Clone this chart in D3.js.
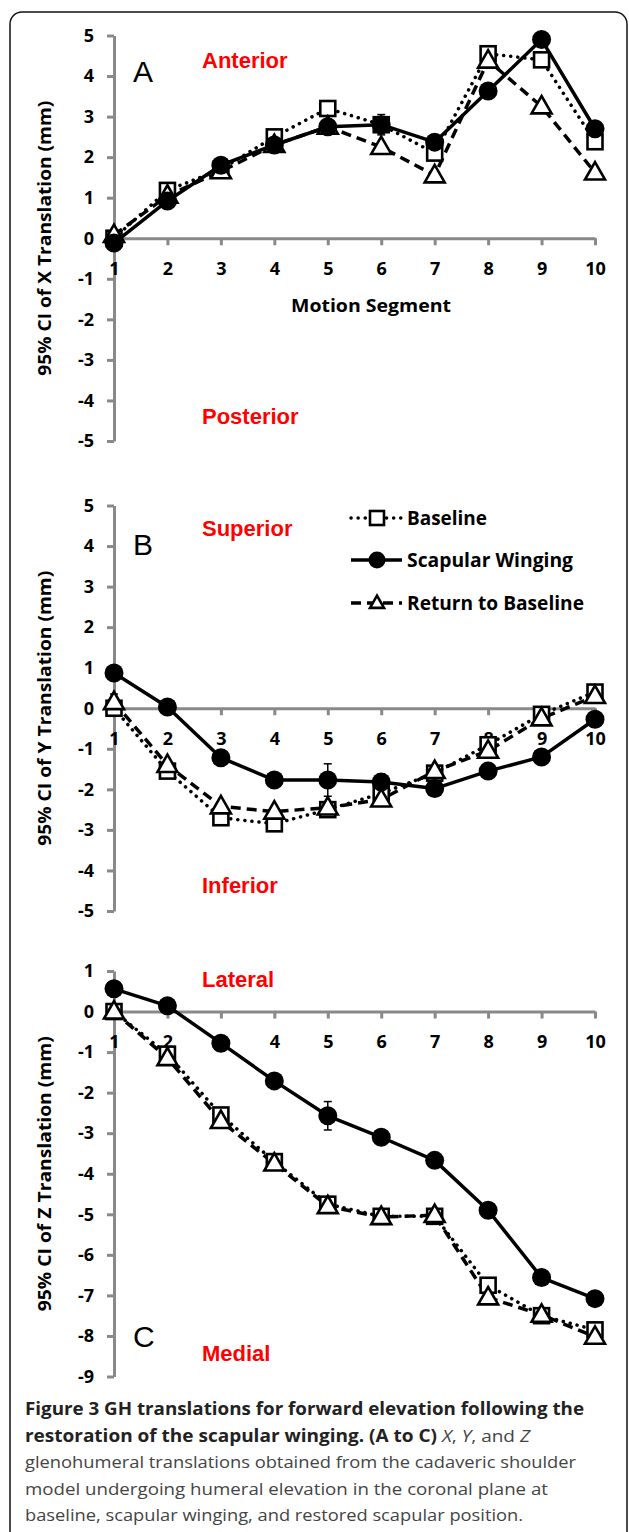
<!DOCTYPE html>
<html lang="en">
<head>
<meta charset="UTF-8">
<title>GH translations</title>
<script src="https://d3js.org/d3.v7.min.js"></script>
<style>
  body { margin: 0; background: #fff; }
  svg { display: block; }
  .tick text { font-family: "Open Sans", sans-serif; font-weight: bold; font-size: 18px; fill: #000; }
  .side { font-family: "Liberation Sans", Arial, sans-serif; font-weight: bold; font-size: 22px; fill: #ff0000; }
  .letter { font-family: "Liberation Sans", Arial, sans-serif; font-size: 30px; fill: #000; }
  .ytitle, .xtitle, .legend text { font-family: "Open Sans", sans-serif; font-weight: bold; fill: #000; }
  .caption { font-family: "Open Sans", sans-serif; font-size: 17px; fill: #444; }
  .caption .b { font-weight: bold; fill: #222; }
</style>
</head>
<body>
<script>
// motion segments on the x axis
const segments = [1, 2, 3, 4, 5, 6, 7, 8, 9, 10];

// panel A: X translation (mm)
const xBaseline = [0.0, 1.18, 1.7, 2.5, 3.2, 2.8, 2.1, 4.55, 4.4, 2.38];
const xWinging  = [-0.12, 0.92, 1.8, 2.3, 2.75, 2.8, 2.37, 3.63, 4.9, 2.7];
const xReturn   = [0.08, 1.05, 1.65, 2.3, 2.75, 2.25, 1.55, 4.38, 3.25, 1.62];
const xErrB = [0.1, 0.1, 0.1, 0.1, 0.1, 0.25, 0.1, 0.1, 0.1, 0.1];
const xErrW = [0.1, 0.1, 0.1, 0.1, 0.1, 0.1, 0.1, 0.1, 0.1, 0.1];
const xErrR = [0.1, 0.1, 0.1, 0.1, 0.1, 0.1, 0.1, 0.1, 0.1, 0.1];

// panel B: Y translation (mm)
const yBaseline = [0.0, -1.55, -2.7, -2.85, -2.5, -2.1, -1.6, -0.9, -0.15, 0.4];
const yWinging  = [0.87, 0.03, -1.22, -1.77, -1.77, -1.82, -1.98, -1.55, -1.2, -0.27];
const yReturn   = [0.15, -1.4, -2.42, -2.55, -2.45, -2.25, -1.55, -1.05, -0.25, 0.3];
const yErrB = [0.1, 0.1, 0.1, 0.1, 0.1, 0.1, 0.1, 0.1, 0.1, 0.1];
const yErrW = [0.1, 0.1, 0.1, 0.1, 0.4, 0.2, 0.1, 0.1, 0.1, 0.1];
const yErrR = [0.2, 0.1, 0.1, 0.1, 0.1, 0.1, 0.1, 0.1, 0.1, 0.1];

// panel C: Z translation (mm)
const zBaseline = [0.0, -1.05, -2.55, -3.7, -4.75, -5.05, -5.05, -6.75, -7.5, -7.85];
const zWinging  = [0.56, 0.14, -0.78, -1.71, -2.57, -3.1, -3.67, -4.9, -6.56, -7.08];
const zReturn   = [0.0, -1.15, -2.7, -3.75, -4.8, -5.07, -5.02, -7.05, -7.48, -8.02];
const zErrB = [0.1, 0.1, 0.1, 0.1, 0.1, 0.1, 0.1, 0.1, 0.1, 0.1];
const zErrW = [0.1, 0.1, 0.1, 0.1, 0.35, 0.1, 0.1, 0.1, 0.1, 0.1];
const zErrR = [0.1, 0.1, 0.1, 0.1, 0.1, 0.1, 0.1, 0.1, 0.1, 0.1];

const seriesNames = ["Baseline", "Scapular Winging", "Return to Baseline"];

const width = 629, height = 1532;
const svg = d3.select("body").append("svg")
    .attr("width", width)
    .attr("height", height);

// outer frame (bottom runs off the page)
svg.append("rect")
    .attr("x", 10).attr("y", 12)
    .attr("width", 617).attr("height", 1560)
    .attr("rx", 12)
    .attr("fill", "none")
    .attr("stroke", "#111")
    .attr("stroke-width", 1.5);

const x = d3.scaleLinear().domain([1, 10]).range([114, 595]);

const panels = [
    { letter: "A", axis: "X", dom: [-5, 5], top: 35.5, letterY: 82, up: "Anterior", upY: 68, down: "Posterior", downY: 424,
      b: xBaseline, w: xWinging, r: xReturn, eb: xErrB, ew: xErrW, er: xErrR, xtitle: true },
    { letter: "B", axis: "Y", dom: [-5, 5], top: 505.5, letterY: 555, up: "Superior", upY: 536, down: "Inferior", downY: 893,
      b: yBaseline, w: yWinging, r: yReturn, eb: yErrB, ew: yErrW, er: yErrR, legend: true },
    { letter: "C", axis: "Z", dom: [-9, 1], top: 971, letterY: 1347, up: "Lateral", upY: 987, down: "Medial", downY: 1361,
      b: zBaseline, w: zWinging, r: zReturn, eb: zErrB, ew: zErrW, er: zErrR }
];

const unit = 40.55;

function square(g, cx, cy, s) {
    g.append("rect").attr("x", cx - s / 2).attr("y", cy - s / 2)
        .attr("width", s).attr("height", s)
        .attr("fill", "#fff").attr("stroke", "#000").attr("stroke-width", 2.6);
}
function triangle(g, cx, cy, s) {
    const h = s * 0.87;
    g.append("path")
        .attr("d", `M${cx},${cy - h * 0.6}L${cx + s / 2},${cy + h * 0.4}L${cx - s / 2},${cy + h * 0.4}Z`)
        .attr("fill", "#fff").attr("stroke", "#000").attr("stroke-width", 2.6)
        .attr("stroke-linejoin", "miter");
}
function circle(g, cx, cy, r) {
    g.append("circle").attr("cx", cx).attr("cy", cy).attr("r", r).attr("fill", "#000");
}

const styles = {
    b: { dash: "0.1,7", cap: "round" },
    w: { dash: null, cap: "butt" },
    r: { dash: "10,6", cap: "butt" }
};

panels.forEach(p => {
    const y = d3.scaleLinear().domain(p.dom)
        .range([p.top + (p.dom[1] - p.dom[0]) * unit, p.top]);
    const g = svg.append("g");

    // y axis
    const ya = g.append("g").attr("transform", `translate(${x(1)},0)`)
        .call(d3.axisLeft(y).tickValues(d3.range(p.dom[0], p.dom[1] + 1)).tickSize(7).tickSizeOuter(0).tickPadding(13));
    // x axis at zero
    const xa = g.append("g").attr("transform", `translate(0,${y(0)})`)
        .call(d3.axisBottom(x).tickValues(segments).tickSize(7).tickSizeOuter(0).tickPadding(17));
    [ya, xa].forEach(a => {
        a.select(".domain").attr("stroke", "#898989").attr("stroke-width", 3);
        a.selectAll(".tick line").attr("stroke", "#898989").attr("stroke-width", 3);
    });
    ya.selectAll(".tick text").text(d => d);

    // axis title
    const cy = (y.range()[0] + y.range()[1]) / 2;
    g.append("text").attr("class", "ytitle")
        .attr("transform", `translate(51,${cy}) rotate(-90)`)
        .attr("text-anchor", "middle")
        .attr("font-size", 17.5)
        .attr("textLength", 275).attr("lengthAdjust", "spacingAndGlyphs")
        .text(`95% CI of ${p.axis} Translation (mm)`);

    if (p.xtitle) {
        g.append("text").attr("class", "xtitle")
            .attr("x", 291).attr("y", 312)
            .attr("font-size", 18)
            .attr("textLength", 160).attr("lengthAdjust", "spacingAndGlyphs")
            .text("Motion Segment");
    }

    g.append("text").attr("class", "letter").attr("x", 133).attr("y", p.letterY).text(p.letter);
    g.append("text").attr("class", "side").attr("x", 202).attr("y", p.upY).text(p.up);
    g.append("text").attr("class", "side").attr("x", 202).attr("y", p.downY).text(p.down);

    // lines
    const line = d3.line().x((d, i) => x(segments[i])).y(d => y(d));
    ["b", "r", "w"].forEach(k => {
        g.append("path").datum(p[k])
            .attr("d", line)
            .attr("fill", "none")
            .attr("stroke", "#000")
            .attr("stroke-width", 3.5)
            .attr("stroke-dasharray", styles[k].dash)
            .attr("stroke-linecap", styles[k].cap)
            .attr("stroke-linejoin", "round");
    });

    // error bars
    [["b", "eb"], ["r", "er"], ["w", "ew"]].forEach(([k, e]) => {
        p[k].forEach((v, i) => {
            const cx = x(segments[i]);
            const y1 = y(v + p[e][i]), y2 = y(v - p[e][i]);
            g.append("line").attr("x1", cx).attr("x2", cx).attr("y1", y1).attr("y2", y2)
                .attr("stroke", "#000").attr("stroke-width", 1.5);
            [y1, y2].forEach(yy => g.append("line")
                .attr("x1", cx - 4).attr("x2", cx + 4).attr("y1", yy).attr("y2", yy)
                .attr("stroke", "#000").attr("stroke-width", 1.5));
        });
    });

    // markers
    const mk = g.append("g");
    p.b.forEach((v, i) => square(mk, x(segments[i]), y(v), 15));
    p.r.forEach((v, i) => triangle(mk, x(segments[i]), y(v), 20));
    p.w.forEach((v, i) => circle(mk, x(segments[i]), y(v), 9.5));

    if (p.legend) {
        const lg = g.append("g").attr("class", "legend");
        const rows = [
            { k: "b", y: 518, len: 80 },
            { k: "w", y: 560, len: 166 },
            { k: "r", y: 603, len: 177 }
        ];
        rows.forEach((row, j) => {
            lg.append("line").attr("x1", 351).attr("x2", 402).attr("y1", row.y).attr("y2", row.y)
                .attr("stroke", "#000").attr("stroke-width", 3.5)
                .attr("stroke-dasharray", styles[row.k].dash)
                .attr("stroke-linecap", styles[row.k].cap);
            if (row.k === "b") square(lg, 377, row.y, 14);
            if (row.k === "w") circle(lg, 377, row.y, 8.5);
            if (row.k === "r") triangle(lg, 377, row.y, 14);
            lg.append("text").attr("x", 407).attr("y", row.y + 6.5)
                .attr("font-size", 19)
                .attr("textLength", row.len).attr("lengthAdjust", "spacingAndGlyphs")
                .text(seriesNames[j]);
        });
    }
});

// caption
const cap = svg.append("g").attr("class", "caption");
const c1 = cap.append("text").attr("x", 25).attr("y", 1415)
    .attr("textLength", 559).attr("lengthAdjust", "spacingAndGlyphs");
c1.append("tspan").attr("class", "b").text("Figure 3 GH translations for forward elevation following the");

const c2 = cap.append("text").attr("x", 25).attr("y", 1442)
    .attr("textLength", 505).attr("lengthAdjust", "spacingAndGlyphs");
c2.append("tspan").attr("class", "b").text("restoration of the scapular winging. (A to C) ");
c2.append("tspan").attr("font-style", "italic").text("X");
c2.append("tspan").text(", ");
c2.append("tspan").attr("font-style", "italic").text("Y");
c2.append("tspan").text(", and ");
c2.append("tspan").attr("font-style", "italic").text("Z");

const captionLines = [
    "glenohumeral translations obtained from the cadaveric shoulder",
    "model undergoing humeral elevation in the coronal plane at",
    "baseline, scapular winging, and restored scapular position."
];
const captionWidths = [551, 523, 498];
captionLines.forEach((t, i) => {
    cap.append("text").attr("x", 25).attr("y", 1468 + i * 26.7)
        .attr("textLength", captionWidths[i]).attr("lengthAdjust", "spacingAndGlyphs")
        .text(t);
});
</script>
</body>
</html>
